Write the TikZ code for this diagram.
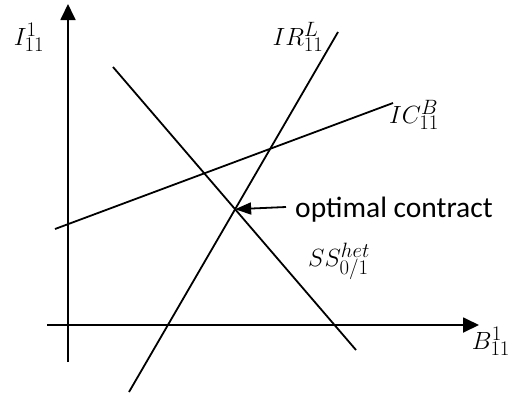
\documentclass[tikz,border=0pt]{standalone}
\usepackage{fontspec}
\newfontfamily\calib{Carlito}
\DeclareMathSizes{26}{26}{20}{15}
\usetikzlibrary{arrows.meta}
\begin{document}
\begin{tikzpicture}[x=1pt,y=-1pt,
  ln/.style={line width=1.8pt},
  axis/.style={line width=1.8pt,-{Triangle[length=16pt,width=15pt]}},
  lbl/.style={inner sep=0pt,font=\fontsize{26}{30}\selectfont},
  txt/.style={inner sep=0pt,font=\calib\fontsize{29.5}{34}\selectfont}]
\useasboundingbox (0,0) rectangle (513,394);
% axes
\coordinate (v0) at (68,362);
\coordinate (v1) at (68,4);
\coordinate (h0) at (47,325);
\coordinate (h1) at (479,325);
\draw[axis] (v0) -- (v1);
\draw[axis] (h0) -- (h1);
% lines
\coordinate (ir0) at (129,392);
\coordinate (ir1) at (338,32);
\coordinate (ss0) at (113,67);
\coordinate (ss1) at (356,350);
\coordinate (ic0) at (55,229);
\coordinate (ic1) at (393,103);
\draw[ln] (ir0) -- (ir1);
\draw[ln] (ss0) -- (ss1);
\draw[ln] (ic0) -- (ic1);
% optimum
\coordinate (opt) at (intersection of ir0--ir1 and ss0--ss1);
\coordinate (tail) at (286,207);
\draw[line width=1.8pt,-{Triangle[length=16pt,width=12pt]}] (tail) -- (opt);
\node[txt,anchor=base west] (optlbl) at (295,217) {optimal contract};
% labels
\node[lbl] (il) at (29,37) {$I^{1}_{11}$};
\node[lbl] (irl) at (298,37) {$IR^{L}_{11}$};
\node[lbl] (icl) at (414,115) {$IC^{B}_{11}$};
\node[lbl] (ssl) at (339,261) {$SS^{het}_{0/1}$};
\node[lbl] (bl) at (491,341) {$B^{1}_{11}$};
\end{tikzpicture}
\end{document}
